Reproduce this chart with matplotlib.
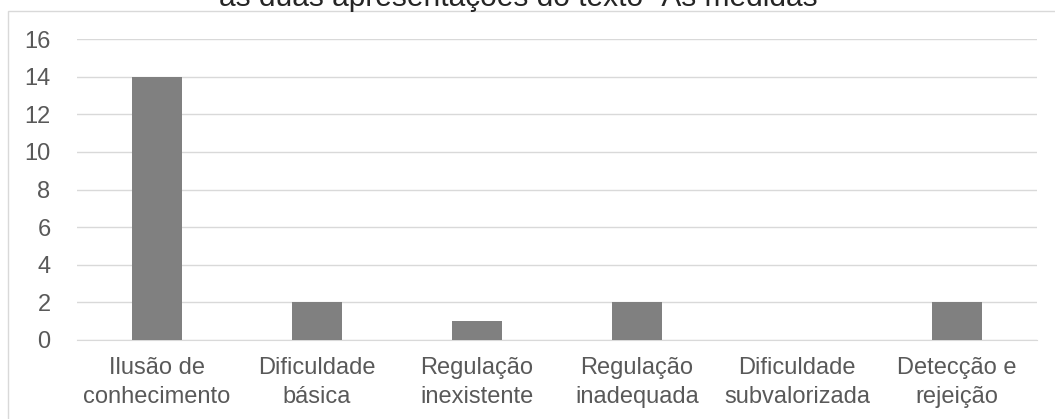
import matplotlib.pyplot as plt
from matplotlib.patches import Rectangle

categories = ['Ilusão de\nconhecimento', 'Dificuldade\nbásica', 'Regulação\ninexistente',
              'Regulação\ninadequada', 'Dificuldade\nsubvalorizada', 'Detecção e\nrejeição']
values = [14, 2, 1, 2, 0, 2]
yticks = [0, 2, 4, 6, 8, 10, 12, 14, 16]
title = 'às duas apresentações do texto “As medidas”'

plt.rcParams['font.family'] = ['Liberation Sans', 'DejaVu Sans']

W, H = 1055, 419
fig = plt.figure(figsize=(W / 100, H / 100), dpi=100)

# chart border (cut off at right and bottom)
fig.patches.append(Rectangle((8 / W, -0.1), 1.2, 1.1 - 11 / H, transform=fig.transFigure,
                             fill=False, edgecolor='#d9d9d9', linewidth=1))

ax = fig.add_axes([77 / W, 1 - 340 / H, (1037 - 77) / W, (340 - 39) / H])
x = range(len(categories))
ax.bar(x, values, width=0.31, color='#808080', zorder=3)
ax.set_xlim(-0.5, len(categories) - 0.5)
ax.set_ylim(0, 16)
ax.set_yticks(yticks)
ax.set_xticks(list(x))
ax.set_xticklabels(categories, linespacing=1.45)
ax.grid(axis='y', color='#d9d9d9', linewidth=1, zorder=0)
for s in ['top', 'right', 'left']:
    ax.spines[s].set_visible(False)
ax.spines['bottom'].set_color('#d9d9d9')
ax.tick_params(axis='both', length=0, labelsize=17, colors='#595959')
ax.tick_params(axis='x', pad=12)
ax.tick_params(axis='y', pad=19)

fig.text(0.496, 1 - 6 / H, title, ha='center', va='baseline', fontsize=21.5, color='#262626')

fig.savefig('out.png', dpi=100)
